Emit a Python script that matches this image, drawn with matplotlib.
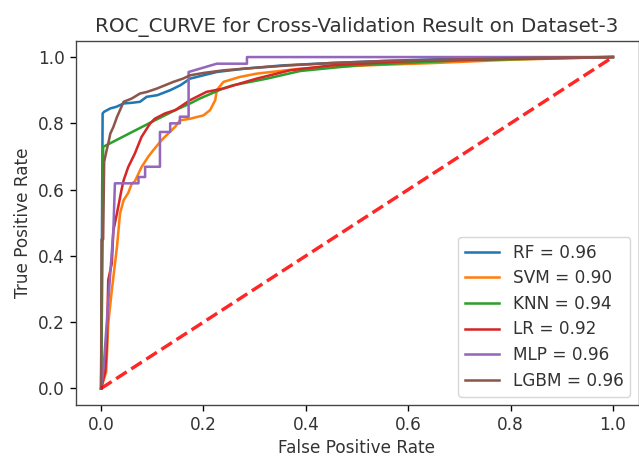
import matplotlib
matplotlib.use("Agg")
import matplotlib.pyplot as plt

# ---- data ----
labels = ["RF = 0.96", "SVM = 0.90", "KNN = 0.94", "LR = 0.92", "MLP = 0.96", "LGBM = 0.96"]

fpr_rf = [0, 0.003, 0.006, 0.012, 0.018, 0.03, 0.044, 0.06, 0.076, 0.089, 0.11, 0.135,
          0.155, 0.174, 0.2, 0.226, 0.28, 0.356, 0.45, 0.55, 0.65, 0.8, 1.0]
tpr_rf = [0, 0.83, 0.835, 0.84, 0.845, 0.85, 0.86, 0.862, 0.865, 0.88, 0.885, 0.90,
          0.915, 0.935, 0.945, 0.955, 0.965, 0.975, 0.982, 0.988, 0.993, 0.997, 1.0]

fpr_svm = [0, 0.01, 0.014, 0.021, 0.031, 0.037, 0.044, 0.053, 0.06, 0.066, 0.079, 0.092,
           0.102, 0.118, 0.135, 0.145, 0.154, 0.174, 0.2, 0.213, 0.223, 0.226, 0.239,
           0.271, 0.304, 0.389, 0.519, 0.649, 0.8, 1.0]
tpr_svm = [0, 0.05, 0.196, 0.297, 0.427, 0.528, 0.568, 0.59, 0.618, 0.625, 0.668, 0.699,
           0.719, 0.749, 0.775, 0.79, 0.809, 0.814, 0.824, 0.84, 0.87, 0.90, 0.925,
           0.94, 0.95, 0.965, 0.975, 0.982, 0.992, 1.0]

fpr_knn = [0, 0.003, 0.004, 0.105, 0.145, 0.174, 0.193, 0.238, 0.258, 0.324, 0.389, 0.5, 0.7, 1.0]
tpr_knn = [0, 0.45, 0.729, 0.809, 0.84, 0.86, 0.875, 0.905, 0.915, 0.935, 0.958, 0.975, 0.99, 1.0]

fpr_lr = [0, 0.008, 0.011, 0.014, 0.021, 0.024, 0.031, 0.035, 0.04, 0.044, 0.053, 0.066,
          0.079, 0.096, 0.105, 0.125, 0.145, 0.174, 0.206, 0.239, 0.271, 0.304, 0.369,
          0.45, 0.6, 0.8, 0.95, 1.0]
tpr_lr = [0, 0.05, 0.125, 0.327, 0.378, 0.477, 0.528, 0.56, 0.6, 0.628, 0.668, 0.709,
          0.759, 0.80, 0.814, 0.83, 0.84, 0.87, 0.895, 0.905, 0.92, 0.935, 0.96,
          0.975, 0.988, 0.995, 0.999, 1.0]

fpr_mlp = [0, 0.005, 0.017, 0.024, 0.027, 0.073, 0.073, 0.086, 0.086, 0.115, 0.115, 0.135,
           0.135, 0.154, 0.154, 0.171, 0.171, 0.226, 0.285, 0.285, 1.0]
tpr_mlp = [0, 0.065, 0.327, 0.477, 0.619, 0.619, 0.638, 0.638, 0.669, 0.669, 0.774, 0.774,
           0.80, 0.80, 0.82, 0.82, 0.955, 0.98, 0.98, 1.0, 1.0]

fpr_lgbm = [0, 0.001, 0.004, 0.006, 0.011, 0.014, 0.018, 0.024, 0.031, 0.037, 0.044, 0.06,
            0.076, 0.09, 0.109, 0.125, 0.141, 0.16, 0.174, 0.2, 0.239, 0.304, 0.369,
            0.45, 0.55, 0.7, 0.85, 1.0]
tpr_lgbm = [0, 0.45, 0.45, 0.684, 0.72, 0.739, 0.769, 0.789, 0.819, 0.84, 0.865, 0.875,
            0.89, 0.895, 0.905, 0.915, 0.925, 0.935, 0.945, 0.952, 0.96, 0.968, 0.975,
            0.982, 0.988, 0.993, 0.998, 1.0]

diag = [0, 1]

series = [(fpr_rf, tpr_rf), (fpr_svm, tpr_svm), (fpr_knn, tpr_knn),
          (fpr_lr, tpr_lr), (fpr_mlp, tpr_mlp), (fpr_lgbm, tpr_lgbm)]

# ---- style ----
S = 1.22
plt.rcParams.update({
    "font.family": "DejaVu Sans",
    "font.size": 10 * S,
    "axes.linewidth": 0.8 * S,
    "axes.edgecolor": "#444444",
    "xtick.major.width": 0.8 * S,
    "ytick.major.width": 0.8 * S,
    "xtick.major.size": 3.5 * S,
    "ytick.major.size": 3.5 * S,
    "text.color": "#333333",
    "axes.labelcolor": "#333333",
    "xtick.labelcolor": "#333333",
    "ytick.labelcolor": "#333333",
})

fig = plt.figure(figsize=(6.39, 4.57), dpi=100)
ax = fig.add_axes([75.5 / 639, 52 / 457, 563 / 639, 364.5 / 457])

for (f, t), lab in zip(series, labels):
    ax.plot(f, t, lw=1.5 * S, label=lab)
ax.plot(diag, diag, "r--", lw=2 * S, alpha=0.85)

ax.set_title("ROC_CURVE for Cross-Validation Result on Dataset-3", fontsize=14.3)
ax.set_xlabel("False Positive Rate")
ax.set_ylabel("True Positive Rate")
ax.legend(loc="lower right", labelspacing=0.45)

fig.savefig("out.png", dpi=100)
